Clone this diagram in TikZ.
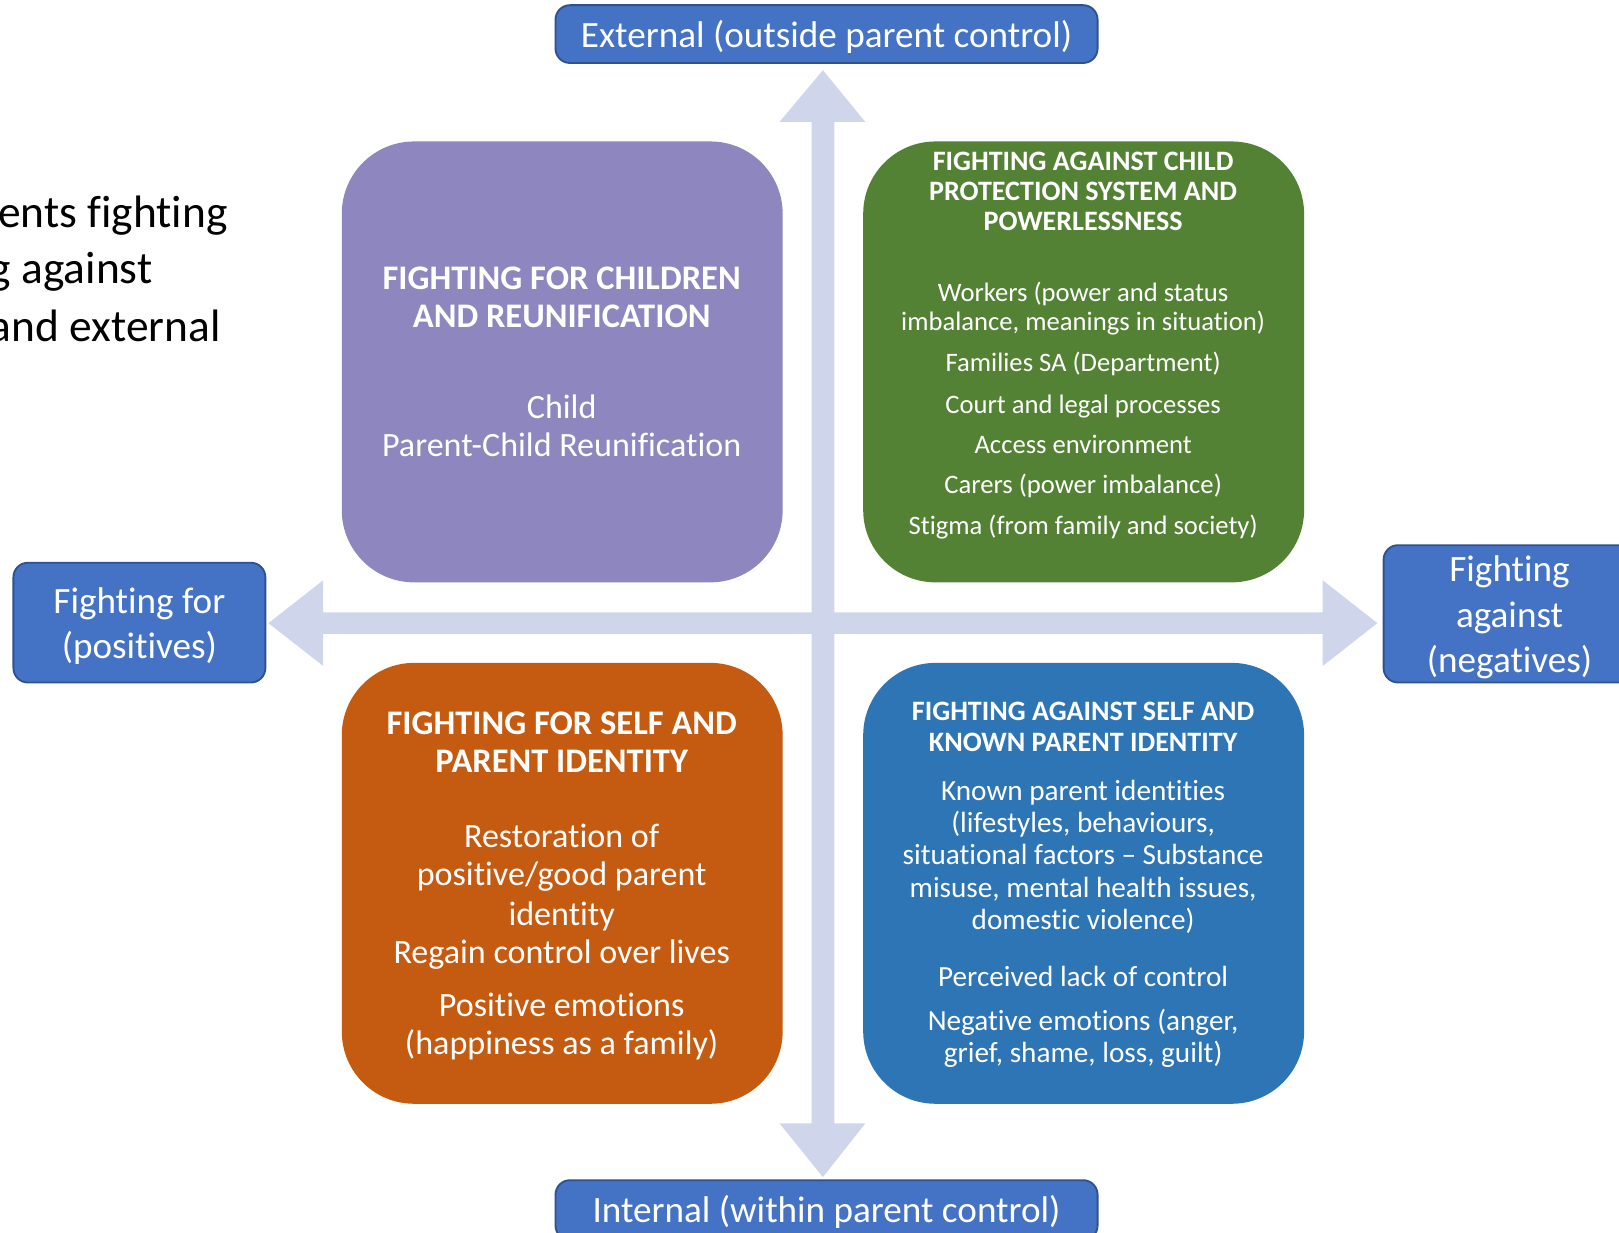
\documentclass[tikz,border=0pt]{standalone}
\usepackage{fontspec}
\setmainfont{Carlito}[Ligatures={NoCommon,NoContextual,NoRare,NoRequired}, Contextuals=NoAlternate, RawFeature=-ccmp]
\definecolor{lblue}{HTML}{4472C4}
\definecolor{lbord}{HTML}{2F528F}
\definecolor{arrowc}{HTML}{CFD5EA}
\definecolor{purp}{HTML}{8E86BE}
\definecolor{grn}{HTML}{548235}
\definecolor{orng}{HTML}{C55A11}
\definecolor{blu}{HTML}{2E75B6}
\tikzset{
  quad/.style={rounded corners=70pt, minimum width=427pt, minimum height=427pt, inner sep=0pt},
  lbl/.style={fill=lblue, draw=lbord, line width=1.8pt, rounded corners=14pt, inner sep=0pt},
  lbltext/.style={text=white, align=center, inner sep=0pt, font=\fontsize{36}{44}\selectfont},
  wline/.style={text=white, anchor=base, inner sep=0pt, yshift=-1pt},
  bighead/.style={wline, font=\bfseries\fontsize{33.4}{37}\selectfont},
  bigbody/.style={wline, font=\fontsize{33}{37}\selectfont},
  smhead/.style={wline, font=\bfseries\fontsize{27.2}{30}\selectfont},
  smbody/.style={wline, font=\fontsize{25.8}{28}\selectfont},
  mdbody/.style={wline, font=\fontsize{28.3}{31}\selectfont},
  sidetext/.style={anchor=base west, inner sep=0pt, font=\fontsize{44}{55}\selectfont}
}
\begin{document}
\begin{tikzpicture}[x=1pt,y=-1pt]
\useasboundingbox (0,0) rectangle (1568,1194);
\clip (0,0) rectangle (1568,1194);

% title text running in from the left
\node[sidetext] (s1) at (-2,220) {ents fighting};
\node[sidetext] (s2) at (-10,275) {g against};
\node[sidetext] (s3) at (-10,331) {and external};

% axis arrows
\coordinate (vt) at (797,68);
\coordinate (vb) at (797,1140);
\coordinate (hl) at (260,603.5);
\coordinate (hr) at (1334,603.5);
\fill[arrowc] (786,118) -- (755,118) -- (vt) -- (838,118) -- (808,118) -- (808,1088)
  -- (838,1088) -- (vb) -- (755,1088) -- (786,1088) -- cycle;
\fill[arrowc] (313,593) -- (313,562) -- (hl) -- (313,645) -- (313,614) -- (1281,614)
  -- (1281,645) -- (hr) -- (1281,562) -- (1281,593) -- cycle;

% axis labels
\node[lbl, minimum width=525pt, minimum height=56pt] (ext) at (800.5,33) {};
\node[lbl, minimum width=525pt, minimum height=58pt] (int) at (800.5,1172) {};
\node[lbl, minimum width=244pt, minimum height=116pt] (pos) at (135,603) {};
\node[lbl, minimum width=244pt, minimum height=133pt] (neg) at (1462,594.5) {};
\node[lbltext] (extT) at ([yshift=-3pt]ext.center) {External (outside parent control)};
\node[lbltext] (intT) at ([yshift=-2pt]int.center) {Internal (within parent control)};
\node[lbltext] (posT) at ([yshift=-3.5pt]pos.center) {Fighting for\\(positives)};
\node[lbltext] (negT) at ([yshift=-3.5pt]neg.center) {Fighting\\against\\(negatives)};

% quadrants
\node[quad, fill=purp] (tl) at (544.5,350.5) {};
\node[quad, fill=grn]  (tr) at (1049.5,350.5) {};
\node[quad, fill=orng] (bl) at (544.5,855.5) {};
\node[quad, fill=blu]  (br) at (1049.5,855.5) {};

% top left
\node[bighead] (p1) at (544,279) {FIGHTING FOR CHILDREN};
\node[bighead] (p2) at (544,316) {AND REUNIFICATION};
\node[bigbody] (p3) at (544,404) {Child};
\node[bigbody] (p4) at (544,441) {Parent-Child Reunification};

% top right
\foreach \yy/\tx [count=\i] in {164/{FIGHTING AGAINST CHILD}, 193/{PROTECTION SYSTEM AND}, 222/{POWERLESSNESS}}
  \node[smhead] (gh\i) at (1049,\yy) {\tx};
\foreach \yy/\tx [count=\i] in {291/{Workers (power and status}, 319/{imbalance, meanings in situation)},
    359/{Families SA (Department)}, 399/{Court and legal processes}, 438/{Access environment},
    477/{Carers (power imbalance)}, 517/{Stigma (from family and society)}}
  \node[smbody] (gb\i) at (1049,\yy) {\tx};

% bottom left
\node[bighead] (o1) at (544,710) {FIGHTING FOR SELF AND};
\node[bighead] (o2) at (544,747) {PARENT IDENTITY};
\foreach \yy/\tx [count=\i] in {820/{Restoration of}, 857/{positive/good parent}, 895/{identity},
    932/{Regain control over lives}, 983/{Positive emotions}, 1020/{(happiness as a family)}}
  \node[bigbody] (ob\i) at (544,\yy) {\tx};

% bottom right
\node[smhead] (b1) at (1049,697) {FIGHTING AGAINST SELF AND};
\node[smhead] (b2) at (1049,727) {KNOWN PARENT IDENTITY};
\foreach \yy/\tx [count=\i] in {774/{Known parent identities}, 805/{(lifestyles, behaviours,},
    836/{situational factors – Substance}, 868/{misuse, mental health issues,}, 899/{domestic violence)},
    954/{Perceived lack of control}, 997/{Negative emotions (anger,}, 1028/{grief, shame, loss, guilt)}}
  \node[mdbody] (bb\i) at (1049,\yy) {\tx};
\end{tikzpicture}
\end{document}
